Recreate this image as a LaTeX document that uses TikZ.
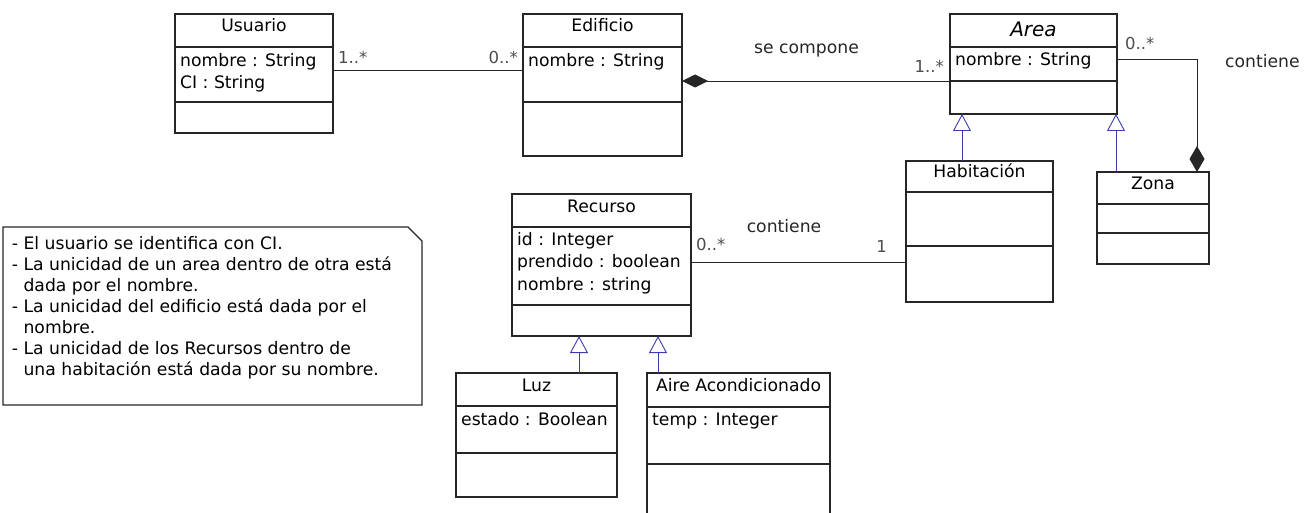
\documentclass[tikz,border=0pt]{standalone}
\usepackage{fontspec}
\setmainfont{DejaVu Sans}
\usetikzlibrary{arrows.meta,calc}
\definecolor{genblue}{RGB}{60,60,170}
\tikzset{
  boxline/.style={line width=1.1pt, draw=black!85},
  classbox/.style={boxline, inner sep=0pt, outer sep=0pt, anchor=north west},
  txt/.style={inner sep=0pt, font=\fontsize{17.2}{20}\selectfont},
  ttl/.style={txt, anchor=base},
  attr/.style={txt, anchor=base west},
  lbl/.style={txt, text=black!85},
  mult/.style={inner sep=0pt, font=\fontsize{16.5}{19}\selectfont, text=black!70},
  assoc/.style={line width=0.9pt, draw=black!85},
  gen/.style={genblue, line width=0.9pt, -{Triangle[open, width=18pt, length=17pt, fill=white]}},
  compa/.style={assoc, {Diamond[width=13pt,length=26pt]}-},
  compb/.style={assoc, {Diamond[width=15pt,length=26pt]}-},
}
\begin{document}
\begin{tikzpicture}[x=1pt,y=-1pt]
\useasboundingbox (0,0) rectangle (1306,513);
\clip (0,0) rectangle (1306,513);

% Usuario
\node[classbox, minimum width=158pt, minimum height=119pt] (usuario) at (175,14) {};
\draw[boxline] (175,47) -- (333,47) (175,102) -- (333,102);
\node[ttl] (usuarioT) at (254,32) {Usuario};
\node[attr] (usuarioA1) at (180,66.5) {nombre : String};
\node[attr] (usuarioA2) at (180,88.5) {CI : String};

% Edificio
\node[classbox, minimum width=159pt, minimum height=142pt] (edificio) at (523,14) {};
\draw[boxline] (523,47) -- (682,47) (523,102) -- (682,102);
\node[ttl] (edificioT) at (602.5,32) {Edificio};
\node[attr] (edificioA1) at (528,66.5) {nombre : String};

% Area
\node[classbox, minimum width=167pt, minimum height=100pt] (area) at (950,14) {};
\draw[boxline] (950,47) -- (1117,47) (950,81) -- (1117,81);
\node[ttl, font=\fontsize{20}{22}\selectfont\itshape] (areaT) at (1033.5,37) {Area};
\node[attr] (areaA1) at (955,66) {nombre : String};

% Habitacion
\node[classbox, minimum width=147pt, minimum height=141pt] (habitacion) at (906,161) {};
\draw[boxline] (906,192) -- (1053,192) (906,246) -- (1053,246);
\node[ttl] (habitacionT) at (979.5,178) {Habitación};

% Zona
\node[classbox, minimum width=112pt, minimum height=92pt] (zona) at (1097,172) {};
\draw[boxline] (1097,204) -- (1209,204) (1097,233) -- (1209,233);
\node[ttl] (zonaT) at (1153,190) {Zona};

% Recurso
\node[classbox, minimum width=179pt, minimum height=142pt] (recurso) at (512,194) {};
\draw[boxline] (512,227) -- (691,227) (512,305) -- (691,305);
\node[ttl] (recursoT) at (601.5,212) {Recurso};
\node[attr] (recursoA1) at (517,245) {id : Integer};
\node[attr] (recursoA2) at (517,267.5) {prendido : boolean};
\node[attr] (recursoA3) at (517,290) {nombre : string};

% Luz
\node[classbox, minimum width=161pt, minimum height=124pt] (luz) at (456,373) {};
\draw[boxline] (456,406) -- (617,406) (456,453) -- (617,453);
\node[ttl] (luzT) at (536.5,391.5) {Luz};
\node[attr] (luzA1) at (461,425) {estado : Boolean};

% Aire Acondicionado
\node[classbox, minimum width=183pt, minimum height=160pt] (aire) at (647,373) {};
\draw[boxline] (647,407) -- (830,407) (647,464) -- (830,464);
\node[ttl] (aireT) at (738.5,391.5) {Aire Acondicionado};
\node[attr] (aireA1) at (652,425) {temp : Integer};

% Note
\draw[boxline] (3,227) -- (408,227) -- (422,241) -- (422,405) -- (3,405) -- cycle;
\node[txt, font=\fontsize{17.2}{21}\selectfont, anchor=base west, align=left] (note) at (11.7,375) {%
- El usuario se identifica con CI.\\
- La unicidad de un area dentro de otra está\\
\phantom{-\ }dada por el nombre.\\
- La unicidad del edificio está dada por el\\
\phantom{-\ }nombre.\\
- La unicidad de los Recursos dentro de\\
\phantom{-\ }una habitación está dada por su nombre.};

% Usuario -- Edificio
\draw[assoc] ($(usuario.north east)+(0,56)$) -- ($(edificio.north west)+(0,56)$);
\node[mult, anchor=base west] (m1) at (338,63.5) {1..*};
\node[mult, anchor=base east] (m2) at (518,63.5) {0..*};

% Edificio <>-- Area
\draw[compa] ($(edificio.north east)+(0,67)$) -- ($(area.north west)+(0,67)$);
\node[lbl, anchor=base] (l1) at (806.5,53.3) {se compone};
\node[mult, anchor=base east] (m3) at (944,73) {1..*};

% Area -- Zona (contiene)
\draw[compb] ($(zona.north west)+(100,0)$) |- ($(area.north east)+(0,45)$);
\node[mult, anchor=base west] (m4) at (1125,50) {0..*};
\node[lbl, anchor=base west] (l2) at (1225,68) {contiene};

% Recurso -- Habitacion
\draw[assoc] ($(recurso.north east)+(0,68)$) -- ($(habitacion.north west)+(0,101)$);
\node[mult, anchor=base west] (m5) at (696,251) {0..*};
\node[mult, anchor=base east] (m6) at (887,252.5) {1};
\node[lbl, anchor=base] (l3) at (784,233) {contiene};

% Generalizations
\draw[gen] ($(habitacion.north west)+(56,0)$) -- ($(area.south west)+(12,0)$);
\draw[gen] ($(zona.north west)+(19,0)$) -- ($(area.south east)+(-1,0)$);
\draw[gen] ($(luz.north west)+(123,0)$) -- ($(recurso.south west)+(67,0)$);
\draw[gen] ($(aire.north west)+(11,0)$) -- ($(recurso.south west)+(146,0)$);
\end{tikzpicture}
\end{document}
